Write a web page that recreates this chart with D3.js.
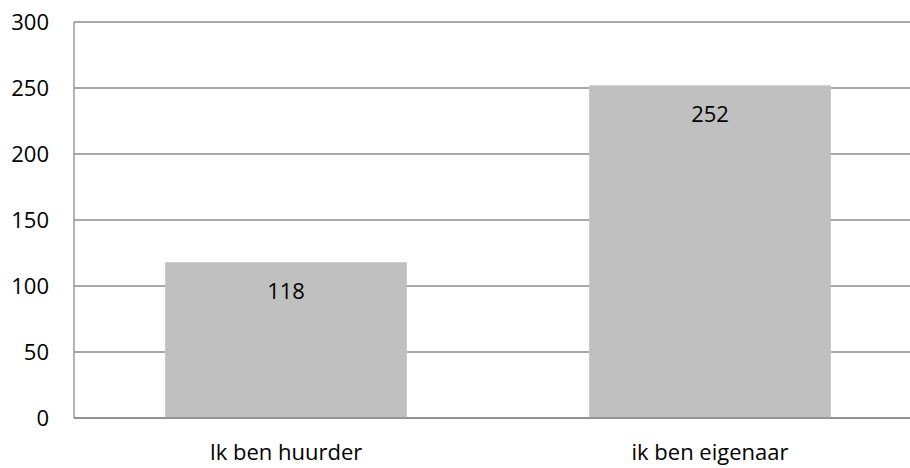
<!DOCTYPE html>
<html>
<head>
<meta charset="utf-8">
<script src="https://cdn.jsdelivr.net/npm/d3@7"></script>
<style>
  body { margin: 0; background: #fff; }
  text { font-family: "Open Sans", sans-serif; fill: #000; }
</style>
</head>
<body>
<div id="viz"></div>
<script>
const categories = ['Ik ben huurder', 'ik ben eigenaar']
const values = [118, 252]
const yTicks = [0, 50, 100, 150, 200, 250, 300]

let dimensions = {
  width: 910,
  height: 468,
  margin: { top: 22, right: -12, bottom: 50, left: 74 },
}
dimensions.boundedWidth = dimensions.width - dimensions.margin.left - dimensions.margin.right
dimensions.boundedHeight = dimensions.height - dimensions.margin.top - dimensions.margin.bottom

const wrapper = d3.select('#viz')
  .append('svg')
  .attr('width', dimensions.width)
  .attr('height', dimensions.height)

const chart = wrapper.append('g')
  .attr('transform', `translate(${dimensions.margin.left},${dimensions.margin.top})`)

const xScale = d3.scaleBand()
  .domain(categories)
  .range([0, dimensions.boundedWidth])
  .paddingInner(0.43)
  .paddingOuter(0.215)

const yScale = d3.scaleLinear()
  .domain([0, 300])
  .range([dimensions.boundedHeight, 0])

// gridlines
chart.selectAll('line.grid')
  .data(yTicks)
  .join('line')
  .attr('class', 'grid')
  .attr('x1', 0)
  .attr('x2', dimensions.boundedWidth)
  .attr('y1', d => yScale(d))
  .attr('y2', d => yScale(d))
  .attr('stroke', '#8c8c8c')
  .attr('stroke-width', 1.3)

// y axis line
chart.append('line')
  .attr('x1', 0).attr('x2', 0)
  .attr('y1', 0).attr('y2', dimensions.boundedHeight)
  .attr('stroke', '#8c8c8c')
  .attr('stroke-width', 1.3)

// bars
chart.selectAll('rect')
  .data(values)
  .join('rect')
  .attr('x', (d, i) => xScale(categories[i]))
  .attr('y', d => yScale(d))
  .attr('width', xScale.bandwidth())
  .attr('height', d => dimensions.boundedHeight - yScale(d))
  .attr('fill', '#c0c0c0')

// baseline on top of bars
chart.append('line')
  .attr('x1', 0).attr('x2', dimensions.boundedWidth)
  .attr('y1', dimensions.boundedHeight).attr('y2', dimensions.boundedHeight)
  .attr('stroke', '#8c8c8c')
  .attr('stroke-width', 1.3)

// value labels
chart.selectAll('text.value')
  .data(values)
  .join('text')
  .attr('class', 'value')
  .attr('x', (d, i) => xScale(categories[i]) + xScale.bandwidth() / 2)
  .attr('y', d => yScale(d) + 37)
  .attr('text-anchor', 'middle')
  .style('font-size', '22px')
  .text(d => d)

// y tick labels
chart.selectAll('text.ytick')
  .data(yTicks)
  .join('text')
  .attr('class', 'ytick')
  .attr('x', -25)
  .attr('y', d => yScale(d) + 8)
  .attr('text-anchor', 'end')
  .style('font-size', '22px')
  .text(d => d)

// x labels
chart.selectAll('text.xlabel')
  .data(categories)
  .join('text')
  .attr('class', 'xlabel')
  .attr('x', d => xScale(d) + xScale.bandwidth() / 2)
  .attr('y', dimensions.boundedHeight + 42)
  .attr('text-anchor', 'middle')
  .style('font-size', '22px')
  .text(d => d)
</script>
</body>
</html>
